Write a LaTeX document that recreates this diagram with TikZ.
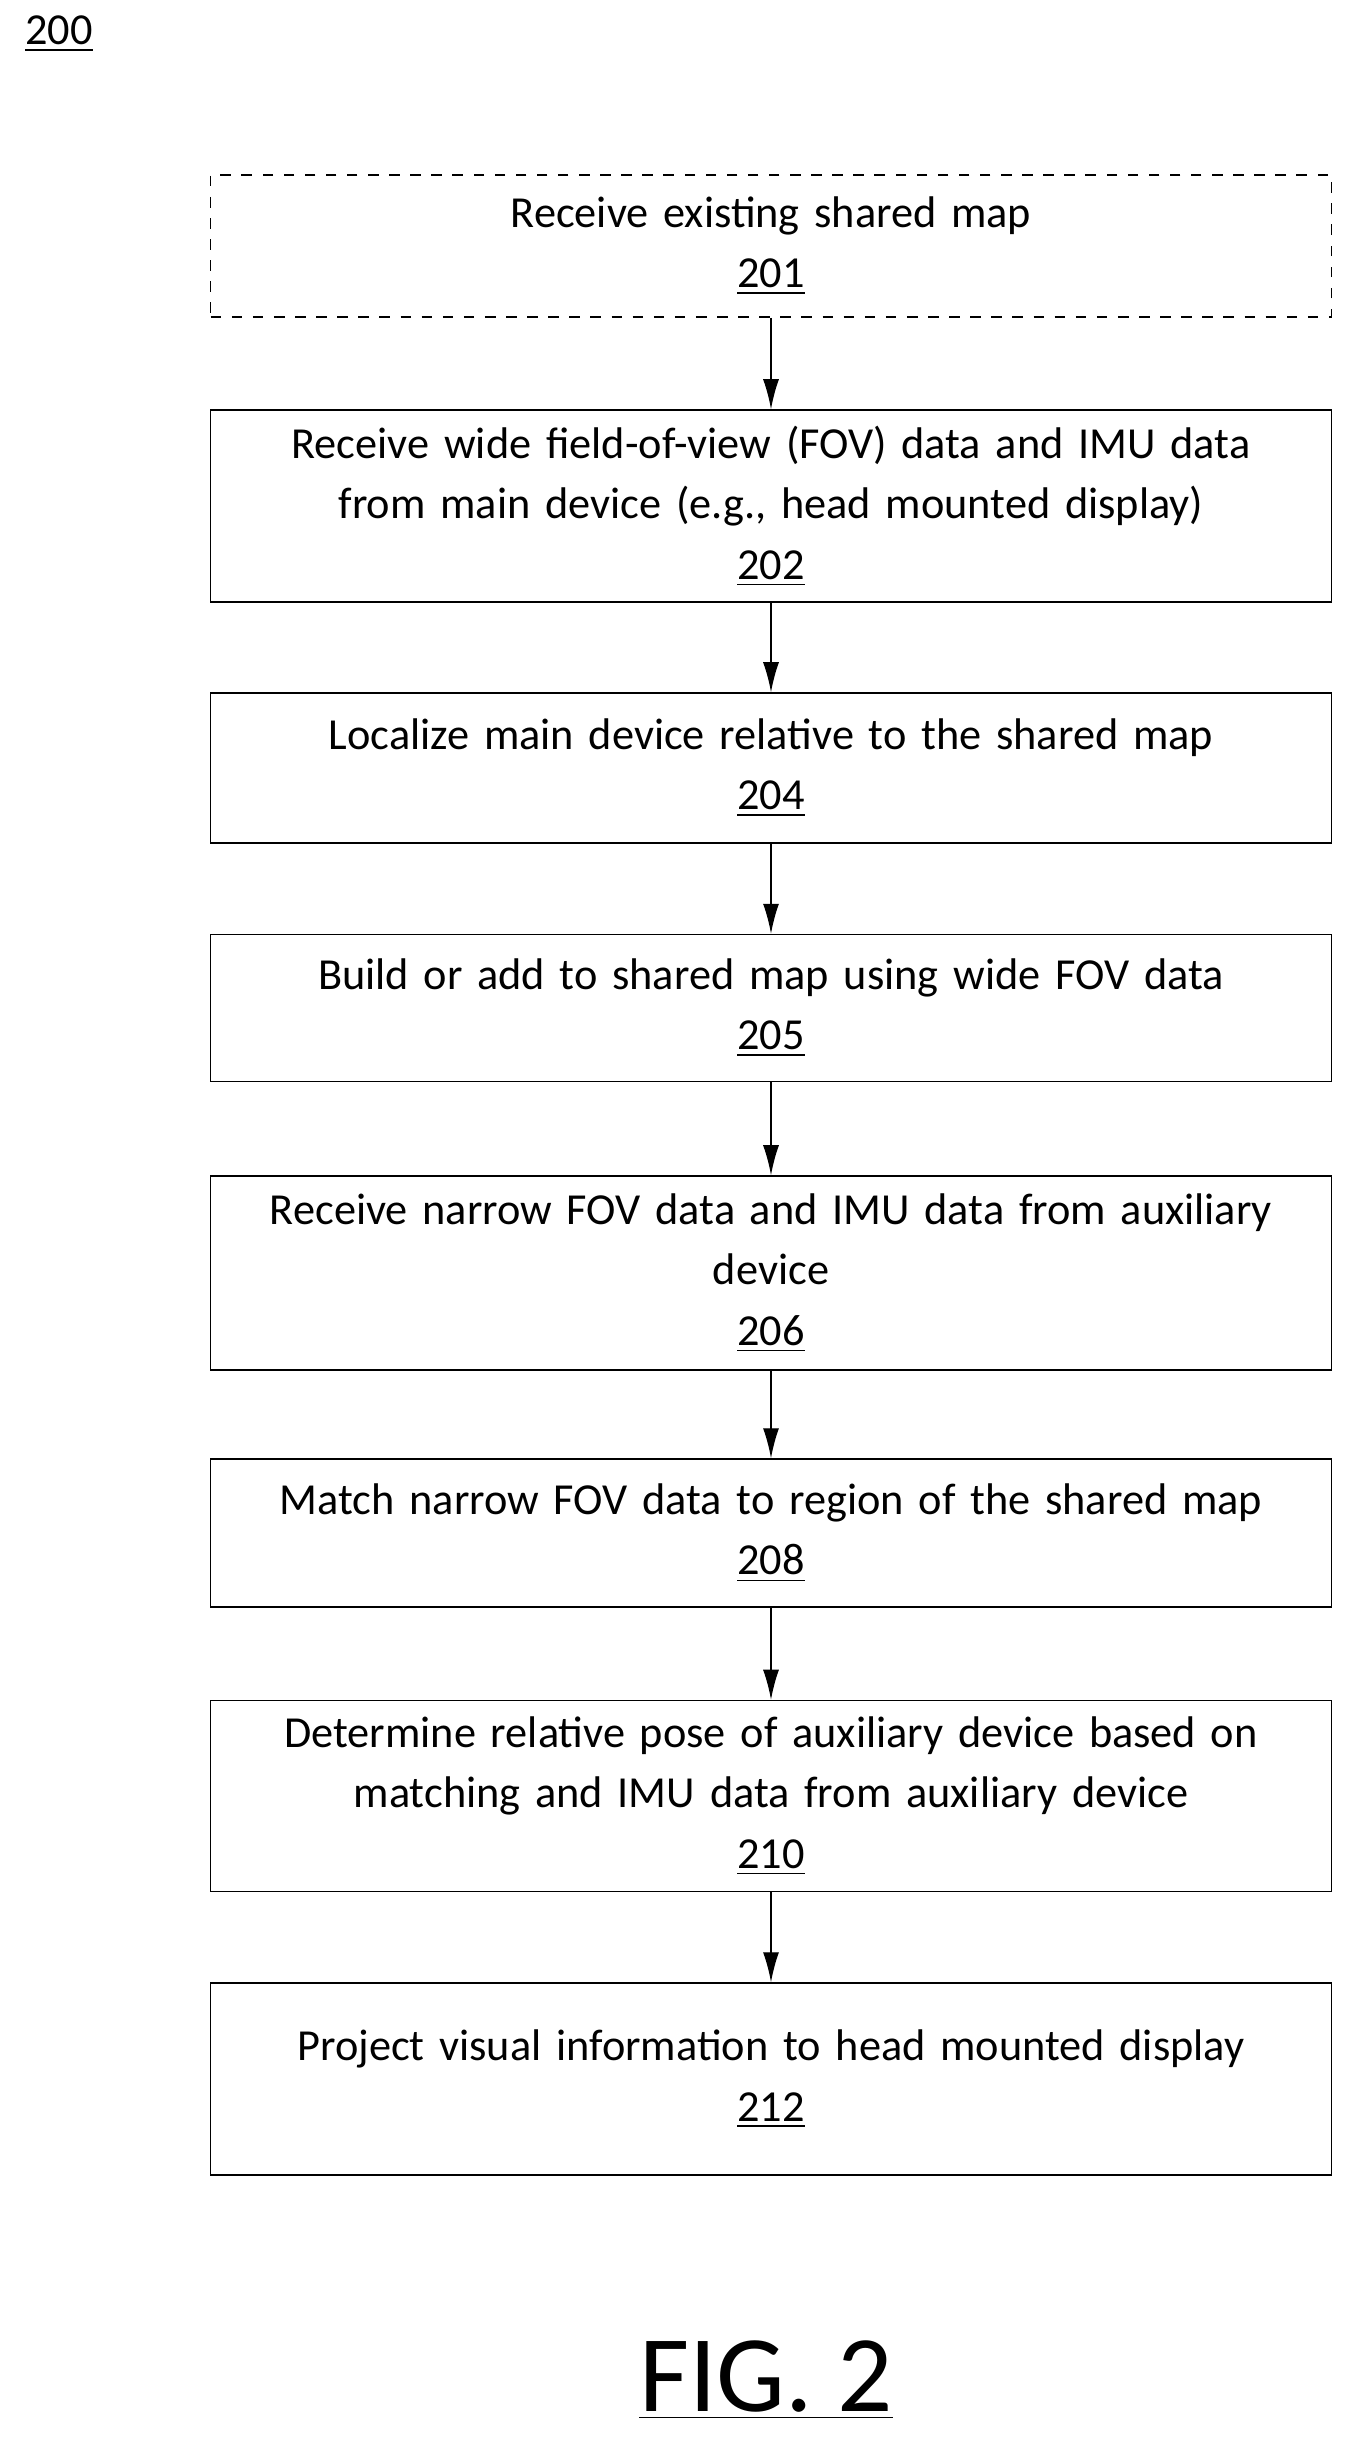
\documentclass[tikz,border=0pt]{standalone}
\usepackage{fontspec}
\setmainfont{Carlito}
\usetikzlibrary{positioning,arrows.meta}
\tikzset{
  flowbox/.style={draw, thin, text width=11.2cm, align=center, inner sep=0pt,
    font=\fontsize{12.6}{17.2}\selectfont},
  flow/.style={-{Latex[length=0.3cm,width=0.16cm]}, thin}
}
\newcommand{\refno}[1]{\underline{#1}}

\begin{document}
\begin{tikzpicture}[x=0.01cm,y=-0.01cm]
    \useasboundingbox (0,0) rectangle (1354,2454);
    \node[font=\fontsize{12.6}{15}\selectfont] (fig) at (59,34) {\refno{200}};

    \node[flowbox, dashed, minimum height=1.42cm] (s201) at (771,246) {Receive existing shared map\\ \refno{201}};
    \node[flowbox, minimum height=1.92cm] (s202) at (771,506) {Receive wide field-of-view (FOV) data and IMU data\\ from main device (e.g., head mounted display)\\ \refno{202}};
    \node[flowbox, minimum height=1.50cm] (s204) at (771,768) {Localize main device relative to the shared map\\ \refno{204}};
    \node[flowbox, minimum height=1.47cm] (s205) at (771,1008) {Build or add to shared map using wide FOV data\\ \refno{205}};
    \node[flowbox, minimum height=1.94cm] (s206) at (771,1273) {Receive narrow FOV data and IMU data from auxiliary\\ device\\ \refno{206}};
    \node[flowbox, minimum height=1.48cm] (s208) at (771,1533) {Match narrow FOV data to region of the shared map\\ \refno{208}};
    \node[flowbox, minimum height=1.91cm] (s210) at (771,1796) {Determine relative pose of auxiliary device based on\\ matching and IMU data from auxiliary device\\ \refno{210}};
    \node[flowbox, minimum height=1.92cm] (s212) at (771,2079) {Project visual information to head mounted display\\ \refno{212}};

    \draw[flow] (s201) -- (s202);
    \draw[flow] (s202) -- (s204);
    \draw[flow] (s204) -- (s205);
    \draw[flow] (s205) -- (s206);
    \draw[flow] (s206) -- (s208);
    \draw[flow] (s208) -- (s210);
    \draw[flow] (s210) -- (s212);

    \node[font=\fontsize{31}{36}\selectfont] (caption) at (766,2380) {\refno{FIG. 2}};
\end{tikzpicture}
\end{document}
